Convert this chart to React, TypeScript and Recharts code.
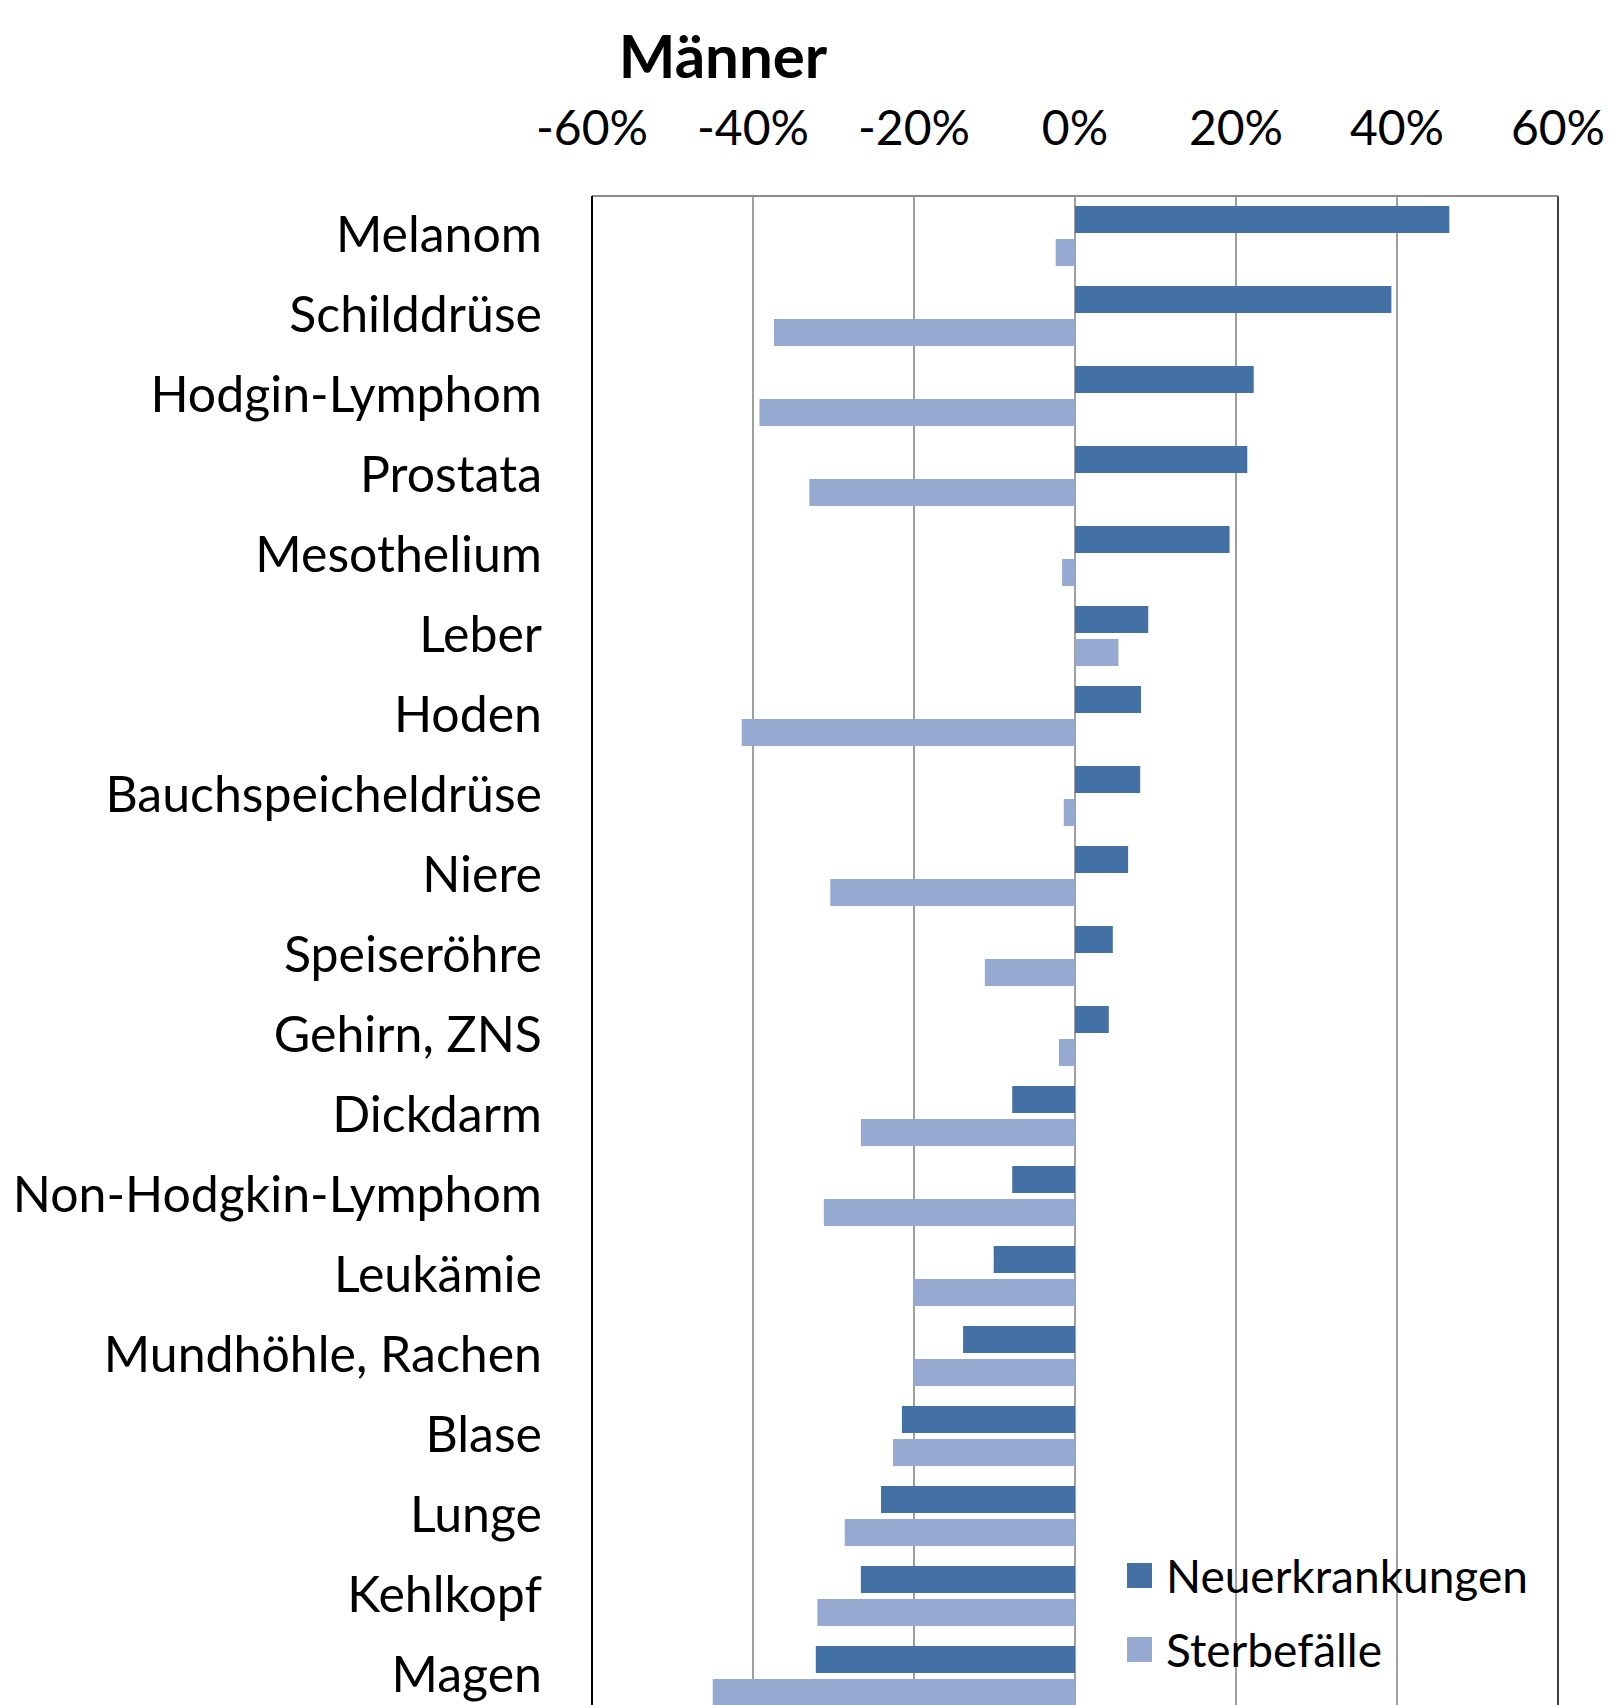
import { BarChart, Bar, XAxis, YAxis, CartesianGrid, Legend, ReferenceLine } from "recharts";

const categories = [
  "Melanom", "Schilddrüse", "Hodgin-Lymphom", "Prostata", "Mesothelium", "Leber", "Hoden",
  "Bauchspeicheldrüse", "Niere", "Speiseröhre", "Gehirn, ZNS", "Dickdarm", "Non-Hodgkin-Lymphom",
  "Leukämie", "Mundhöhle, Rachen", "Blase", "Lunge", "Kehlkopf", "Magen",
];
const neuerkrankungen = [
  0.465, 0.393, 0.222, 0.214, 0.192, 0.091, 0.082, 0.081, 0.066, 0.047, 0.042,
  -0.078, -0.078, -0.101, -0.139, -0.215, -0.241, -0.266, -0.322,
];
const sterbefaelle = [
  -0.024, -0.374, -0.392, -0.33, -0.016, 0.054, -0.414, -0.014, -0.304, -0.112, -0.02,
  -0.266, -0.312, -0.201, -0.2, -0.226, -0.286, -0.32, -0.45,
];
const xTicks = [-0.6, -0.4, -0.2, 0, 0.2, 0.4, 0.6];

const data = categories.map((name, i) => ({
  name,
  neu: neuerkrankungen[i],
  sterbe: sterbefaelle[i],
}));

const FONT = "Lato, 'Open Sans', sans-serif";
const DARK = "#4471a5";
const LIGHT = "#95a9d1";

const XTick = (props: any) => {
  const { x, payload } = props;
  return (
    <text x={x} y={145} textAnchor="middle" fontSize={48} fontFamily={FONT} fill="#000">
      {`${Math.round(payload.value * 100)}%`}
    </text>
  );
};

const YTick = (props: any) => {
  const { y, payload } = props;
  return (
    <text x={542} y={y} dy={16} textAnchor="end" fontSize={50} fontFamily={FONT} fill="#000">
      {payload.value}
    </text>
  );
};

const LegendBox = (props: any) => {
  const items = props.payload || [];
  return (
    <div style={{ fontFamily: FONT, fontSize: 46, color: "#000" }}>
      {items.map((item: any) => (
        <div key={item.value} style={{ display: "flex", alignItems: "center", height: 74 }}>
          <div style={{ width: 25, height: 25, flexShrink: 0, background: item.color, marginRight: 14 }} />
          <span style={{ whiteSpace: "nowrap" }}>{item.value}</span>
        </div>
      ))}
    </div>
  );
};

export default function App() {
  return (
    <div style={{ position: "absolute", left: 0, top: 0, width: 1610, height: 1705, overflow: "hidden", background: "#fff" }}>
      <div
        style={{
          position: "absolute", left: 573, top: 20, width: 300, textAlign: "center",
          fontFamily: FONT, fontWeight: 700, fontSize: 60, lineHeight: "70px", color: "#000",
        }}
      >
        Männer
      </div>
      <BarChart
        width={1610}
        height={1730}
        data={data}
        layout="vertical"
        barSize={27}
        barGap={6}
        margin={{ top: 0, right: 52, bottom: 14, left: 0 }}
      >
        <CartesianGrid horizontal={false} stroke="#808080" strokeWidth={1.5} />
        <XAxis
          type="number"
          orientation="top"
          domain={[-0.6, 0.6]}
          ticks={xTicks}
          height={196}
          tick={<XTick />}
          tickLine={false}
          axisLine={{ stroke: "#8c8c8c", strokeWidth: 2 }}
          interval={0}
        />
        <YAxis
          type="category"
          dataKey="name"
          width={592}
          tick={<YTick />}
          tickLine={false}
          axisLine={{ stroke: "#000", strokeWidth: 2 }}
          interval={0}
        />
        <ReferenceLine x={0.6} stroke="#404040" strokeWidth={2} />
        <Legend
          layout="vertical"
          verticalAlign="middle"
          align="center"
          content={<LegendBox />}
          wrapperStyle={{ position: "absolute", left: 1127, top: 1538, width: 440 }}
        />
        <Bar dataKey="neu" name="Neuerkrankungen" fill={DARK} isAnimationActive={false} />
        <Bar dataKey="sterbe" name="Sterbefälle" fill={LIGHT} isAnimationActive={false} />
      </BarChart>
    </div>
  );
}
